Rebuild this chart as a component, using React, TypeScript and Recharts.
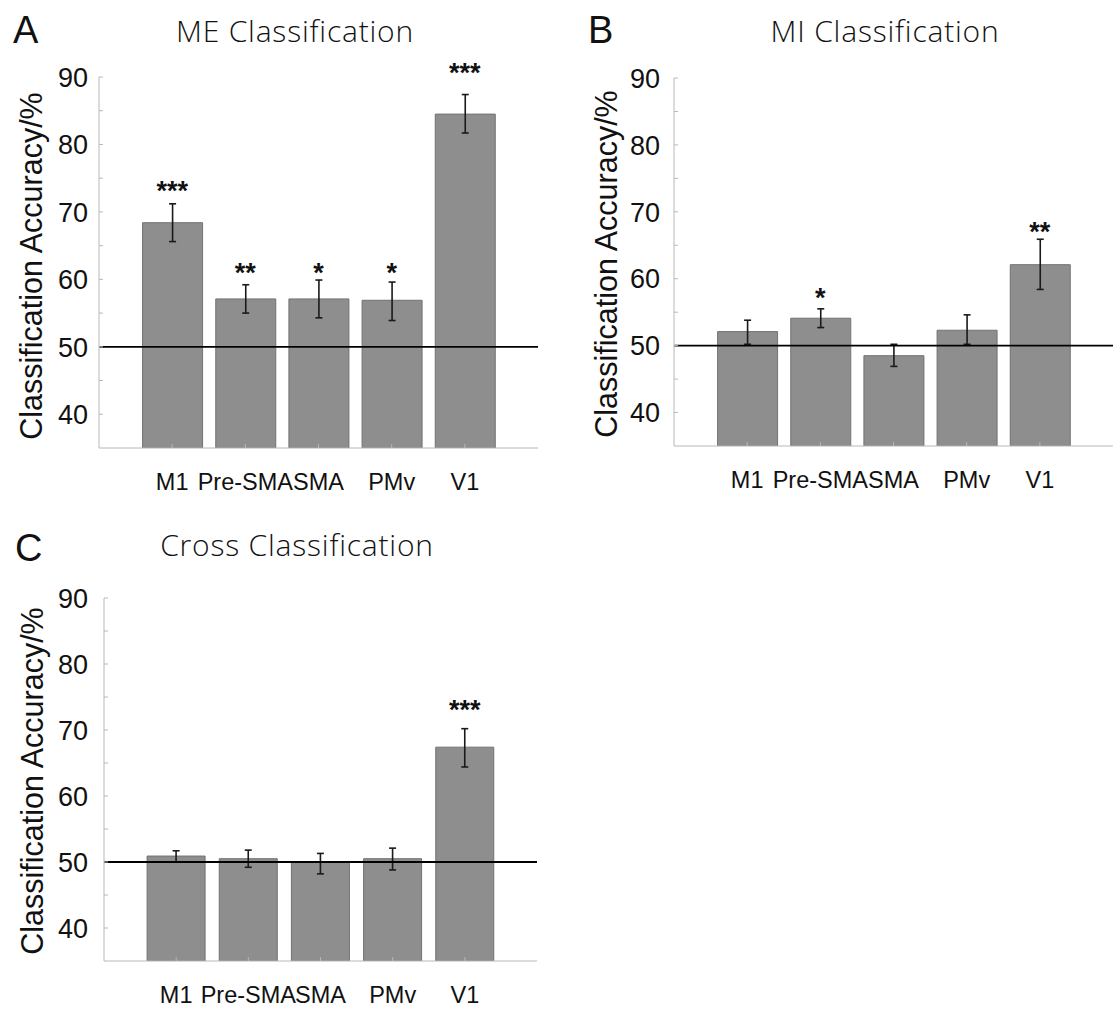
import React from "react";
import {
  ComposedChart,
  Bar,
  Line,
  XAxis,
  YAxis,
  ErrorBar,
  ReferenceLine,
  LabelList,
} from "recharts";

const regions = ["M1", "Pre-SMA", "SMA", "PMv", "V1"];

// A: ME classification
const meMean = [68.4, 57.1, 57.1, 56.9, 84.5];
const meLow = [65.6, 55.0, 54.3, 53.9, 81.7];
const meHigh = [71.2, 59.2, 59.9, 59.6, 87.4];
const meStars = ["***", "**", "*", "*", "***"];
const meStarLevel = [74.2, 62.0, 62.0, 62.0, 91.7];

// B: MI classification
const miMean = [52.1, 54.1, 48.5, 52.3, 62.1];
const miLow = [50.2, 52.7, 46.9, 50.2, 58.4];
const miHigh = [53.8, 55.5, 50.2, 54.6, 65.9];
const miStars = ["", "*", "", "", "**"];
const miStarLevel = [null, 58.2, null, null, 68.0];

// C: cross classification
const crossMean = [50.9, 50.5, 50.0, 50.5, 67.4];
const crossLow = [50.0, 49.2, 48.2, 48.8, 64.4];
const crossHigh = [51.7, 51.8, 51.3, 52.1, 70.2];
const crossStars = ["", "", "", "", "***"];
const crossStarLevel = [null, null, null, null, 74.1];

const yTicks = [40, 45, 50, 55, 60, 65, 70, 75, 80, 85, 90];
const chanceLevel = 50;

const SANS = "'Liberation Sans', Arial, Helvetica, sans-serif";
const TITLE_FONT = "'Open Sans', 'Noto Sans', sans-serif";
const AXIS = "#b8b8b8";

function YTick(props: any) {
  const { x, y, payload, gap } = props;
  const v = payload.value;
  return (
    <g>
      <line x1={x + gap} x2={x + gap + 4} y1={y} y2={y} stroke={AXIS} />
      {v % 10 === 0 && (
        <text
          x={x}
          y={y}
          dy="0.36em"
          textAnchor="end"
          fontFamily={SANS}
          fontSize={27}
          fill="#111"
        >
          {v}
        </text>
      )}
    </g>
  );
}

function XTick(props: any) {
  const { x, y, payload } = props;
  return (
    <g>
      <line x1={x} x2={x} y1={y} y2={y - 4} stroke={AXIS} />
      <text x={x} y={y + 42} textAnchor="middle" fontFamily={SANS} fontSize={23.5} fill="#111">
        {payload.value}
      </text>
    </g>
  );
}

function StarLabel(props: any) {
  const { value } = props;
  if (!value) return null;
  const x = props.x ?? props.viewBox?.x;
  const y = props.y ?? props.viewBox?.y;
  if (x == null || y == null) return null;
  return (
    <text
      x={x}
      y={y + 16}
      textAnchor="middle"
      fontFamily={SANS}
      fontWeight="bold"
      fontSize={27}
      fill="#111"
    >
      {value}
    </text>
  );
}

interface PanelProps {
  left: number;
  top: number;
  yAxisW: number;
  plotW: number;
  marginTop: number;
  plotH: number;
  xAxisH: number;
  tickGap: number;
  barSize: number;
  mean: number[];
  low: number[];
  high: number[];
  stars: string[];
  starLevel: (number | null)[];
}

function Panel(p: PanelProps) {
  const data = regions.map((r, i) => ({
    region: r,
    mean: p.mean[i],
    err: [p.mean[i] - p.low[i], p.high[i] - p.mean[i]],
    stars: p.stars[i],
    starLevel: p.starLevel[i],
  }));
  const band = p.plotW / 6;

  return (
    <div style={{ position: "absolute", left: p.left, top: p.top }}>
      <ComposedChart
        width={p.yAxisW + p.plotW}
        height={p.marginTop + p.plotH + p.xAxisH}
        data={data}
        margin={{ top: p.marginTop, right: 0, bottom: 0, left: 0 }}
      >
        <XAxis
          dataKey="region"
          height={p.xAxisH}
          interval={0}
          padding={{ left: band / 2, right: band / 2 }}
          axisLine={{ stroke: AXIS }}
          tickLine={false}
          tickSize={0}
          tickMargin={0}
          tick={<XTick />}
        />
        <YAxis
          width={p.yAxisW}
          type="number"
          domain={[35, 90]}
          allowDataOverflow
          ticks={yTicks}
          interval={0}
          axisLine={{ stroke: AXIS }}
          tickLine={false}
          tickSize={0}
          tickMargin={p.tickGap}
          tick={(tp: any) => <YTick {...tp} gap={p.tickGap} />}
        />
        <Bar
          dataKey="mean"
          fill="#8e8e8e"
          stroke="#727272"
          strokeWidth={1}
          barSize={p.barSize}
          isAnimationActive={false}
        >
          <ErrorBar dataKey="err" direction="y" width={3.5} strokeWidth={1.6} stroke="#1a1a1a" />
        </Bar>
        <ReferenceLine y={chanceLevel} stroke="#000" strokeWidth={1.8} />
        <Line
          dataKey="starLevel"
          stroke="none"
          dot={false}
          activeDot={false}
          isAnimationActive={false}
        >
          <LabelList dataKey="stars" content={StarLabel} />
        </Line>
      </ComposedChart>
    </div>
  );
}

export default function App() {
  return (
    <div
      style={{
        position: "absolute",
        left: 0,
        top: 0,
        width: 1113,
        height: 1012,
        overflow: "hidden",
        background: "#fff",
      }}
    >
      <Panel
        left={0}
        top={0}
        yAxisW={99}
        plotW={439}
        marginTop={77}
        plotH={371}
        xAxisH={60}
        tickGap={11}
        barSize={60}
        mean={meMean}
        low={meLow}
        high={meHigh}
        stars={meStars}
        starLevel={meStarLevel}
      />
      <Panel
        left={575}
        top={0}
        yAxisW={99}
        plotW={439}
        marginTop={78}
        plotH={368}
        xAxisH={60}
        tickGap={14}
        barSize={60}
        mean={miMean}
        low={miLow}
        high={miHigh}
        stars={miStars}
        starLevel={miStarLevel}
      />
      <Panel
        left={0}
        top={540}
        yAxisW={104}
        plotW={433}
        marginTop={58}
        plotH={363}
        xAxisH={51}
        tickGap={16}
        barSize={58}
        mean={crossMean}
        low={crossLow}
        high={crossHigh}
        stars={crossStars}
        starLevel={crossStarLevel}
      />
      <svg
        width={1113}
        height={1012}
        style={{ position: "absolute", left: 0, top: 0, pointerEvents: "none" }}
      >
        <text x={13} y={43} fontFamily={SANS} fontSize={38} fill="#111">A</text>
        <text x={295} y={42} textAnchor="middle" fontFamily={TITLE_FONT} fontWeight={300} fontSize={30} letterSpacing={0.8} fill="#111">
          ME Classification
        </text>
        <text transform="translate(42,266) rotate(-90)" textAnchor="middle" fontFamily={SANS} fontSize={30.5} fill="#111">
          Classification Accuracy/%
        </text>

        <text x={588} y={43} fontFamily={SANS} fontSize={38} fill="#111">B</text>
        <text x={885} y={42} textAnchor="middle" fontFamily={TITLE_FONT} fontWeight={300} fontSize={30} letterSpacing={0.8} fill="#111">
          MI Classification
        </text>
        <text transform="translate(617,264) rotate(-90)" textAnchor="middle" fontFamily={SANS} fontSize={30.5} fill="#111">
          Classification Accuracy/%
        </text>

        <text x={15} y={561} fontFamily={SANS} fontSize={38} fill="#111">C</text>
        <text x={297} y={556} textAnchor="middle" fontFamily={TITLE_FONT} fontWeight={300} fontSize={30} letterSpacing={0.8} fill="#111">
          Cross Classification
        </text>
        <text transform="translate(43,781) rotate(-90)" textAnchor="middle" fontFamily={SANS} fontSize={30.5} fill="#111">
          Classification Accuracy/%
        </text>
      </svg>
    </div>
  );
}
